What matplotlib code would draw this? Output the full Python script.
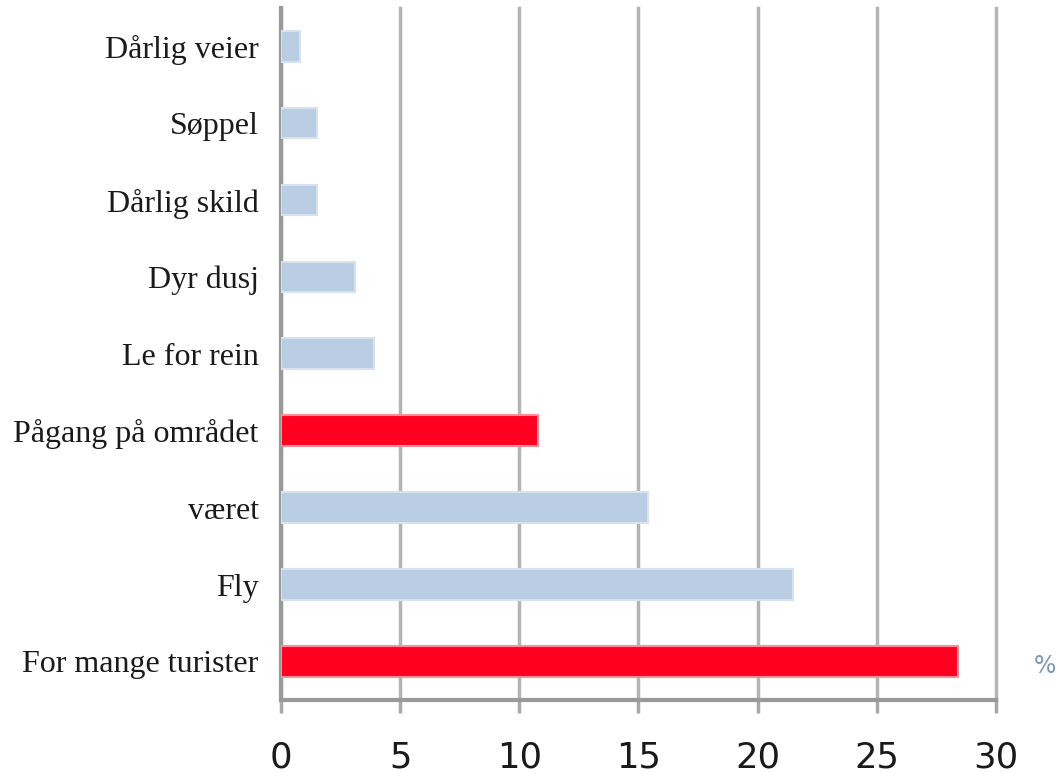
import matplotlib.pyplot as plt
import numpy as np

# kategorier fra topp til bunn
kategorier = ['Dårlig veier', 'Søppel', 'Dårlig skild', 'Dyr dusj', 'Le for rein',
              'Pågang på området', 'været', 'Fly', 'For mange turister']
prosent = [0.8, 1.5, 1.5, 3.1, 3.9, 10.8, 15.4, 21.5, 28.4]
uthevet = [False, False, False, False, False, True, False, False, True]
xticks = [0, 5, 10, 15, 20, 25, 30]

fig = plt.figure(figsize=(10.57, 7.73), dpi=100, facecolor='white')
ax = fig.add_axes([0.2658, 0.0945, 0.6765, 0.8955])

y = np.arange(len(kategorier))
farger = ['#ff0020' if u else '#b9cde3' for u in uthevet]
kanter = ['#ff8c98' if u else '#d6e2ef' for u in uthevet]
ax.barh(y, prosent, height=0.4, color=farger, edgecolor=kanter, linewidth=1.5, zorder=3)

ax.set_ylim(len(kategorier) - 0.5, -0.5)
ax.set_xlim(0, 30)
ax.set_xticks(xticks)
ax.set_xticklabels([str(t) for t in xticks], fontsize=25.5, family='DejaVu Sans', color='#1a1a1a')
ax.set_yticks(y)
ax.set_yticklabels(kategorier, fontsize=23, family='Liberation Serif', color='#1a1a1a')

ax.xaxis.grid(True, color='#b4b4b4', linewidth=2.5, zorder=0)
for linje in ax.get_xgridlines():
    linje.set_clip_on(False)
ax.tick_params(axis='x', length=9.5, width=2.5, color='#a8a8a8', direction='out', pad=20)
ax.tick_params(axis='y', length=0, pad=16)

for side in ['top', 'right']:
    ax.spines[side].set_visible(False)
ax.spines['left'].set_color('#999999')
ax.spines['left'].set_linewidth(3)
ax.spines['bottom'].set_color('#999999')
ax.spines['bottom'].set_linewidth(3)

fig.text(0.989, 0.139, '%', fontsize=17, color='#7f96b5', ha='center', va='center',
         family='DejaVu Sans')

fig.savefig('out.png', dpi=100, facecolor='white')
plt.close()
